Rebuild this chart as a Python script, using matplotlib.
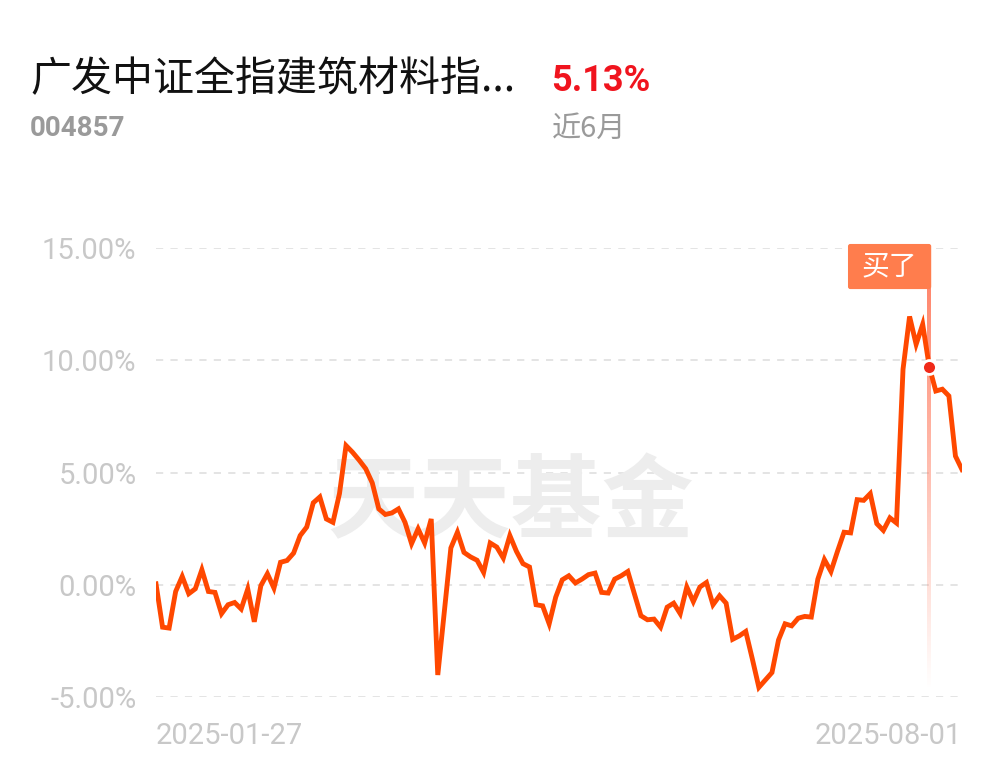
import numpy as np
import matplotlib.pyplot as plt
from matplotlib.patches import FancyBboxPatch

# 近6月 累计收益率 (%)，每个交易日一个点
returns = [0.04, -1.89, -1.93, -0.30, 0.37, -0.40, -0.18, 0.67, -0.30, -0.34,
           -1.29, -0.89, -0.79, -1.08, -0.19, -1.65, -0.04, 0.49, -0.15, 1.00,
           1.08, 1.41, 2.19, 2.57, 3.65, 3.91, 2.93, 2.78, 4.06, 6.20,
           5.90, 5.55, 5.17, 4.54, 3.38, 3.13, 3.20, 3.38, 2.78, 1.83,
           2.49, 1.86, 2.93, -4.02, -1.20, 1.64, 2.34, 1.44, 1.24, 1.09,
           0.55, 1.86, 1.68, 1.19, 2.19, 1.49, 0.94, 0.79, -0.89, -0.94,
           -1.74, -0.55, 0.22, 0.40, 0.08, 0.25, 0.45, 0.52, -0.34, -0.37,
           0.25, 0.40, 0.59, -0.40, -1.38, -1.56, -1.53, -1.89, -1.00, -0.82,
           -1.29, -0.10, -0.75, -0.10, 0.10, -0.89, -0.49, -0.82, -2.43, -2.28,
           -2.08, -3.30, -4.57, -4.24, -3.91, -2.46, -1.74, -1.83, -1.49, -1.41,
           -1.44, 0.25, 1.12, 0.59, 1.49, 2.34, 2.31, 3.79, 3.76, 4.06,
           2.72, 2.42, 2.98, 2.75, 9.60, 11.95, 10.71, 11.60, 9.72, 8.63,
           8.71, 8.41, 5.73, 5.13]
date_labels = ['2025-01-27', '2025-08-01']
y_ticks = [-5, 0, 5, 10, 15]
buy_idx = 118

fund_name = '广发中证全指建筑材料指...'
fund_code = '004857'
period_return = '5.13%'
period_name = '近6月'

W, H = 1001, 766
fig = plt.figure(figsize=(W / 100, H / 100), dpi=100)
fig.patch.set_facecolor('white')

cjk = ['Noto Sans CJK SC', 'DejaVu Sans']
num = ['Roboto', 'DejaVu Sans']

# 标题区
fig.text(30 / W, 1 - 91 / H, fund_name, fontsize=29.5, family=cjk, color='#111111', va='baseline')
fig.text(551 / W, 1 - 91 / H, period_return, fontsize=26, family=num,
         fontweight='bold', color='#f0141e', va='baseline')
fig.text(30 / W, 1 - 136 / H, fund_code, fontsize=20, family=num,
         fontweight='bold', color='#9a9a9a', va='baseline')
fig.text(552 / W, 1 - 137 / H, period_name, fontsize=21, family=cjk, color='#9a9a9a', va='baseline')

# 绘图区
x = np.arange(len(returns))
ax = fig.add_axes([156 / W, (H - 697) / H, (962 - 156) / W, (697 - 248) / H])
ax.set_facecolor('none')
for s in ax.spines.values():
    s.set_visible(False)

for yv in y_ticks:
    ax.axhline(yv, color='#e2e2e2', lw=1.3, ls=(0, (4, 4)), zorder=0)

# 水印
ax.text(0.44, 0.43, '天天基金', transform=ax.transAxes, fontsize=66, family=cjk,
        fontweight='bold', color='#ededed', ha='center', va='center', zorder=0)

ax.plot(x, returns, color='#ff4800', lw=3.5, solid_joinstyle='miter', zorder=3)

# 买入标记：渐变竖线 + 标签
top_y, bot_y = 13.17, -4.7
grad = np.zeros((200, 1, 4))
grad[:, 0, 0] = 1.0
grad[:, 0, 1] = 0.45
grad[:, 0, 2] = 0.33
grad[:, 0, 3] = np.linspace(0.85, 0.0, 200)
ax.imshow(grad, extent=[buy_idx - 0.3, buy_idx + 0.3, bot_y, top_y], aspect='auto',
          origin='upper', zorder=2)

box_w = 12.7
box = FancyBboxPatch((buy_idx + 0.3 - box_w, top_y), box_w, 15.18 - top_y,
                     boxstyle='round,pad=0,rounding_size=0.35', fc='#ff7d4d', ec='none',
                     clip_on=False, zorder=4, mutation_aspect=0.3)
ax.add_patch(box)
ax.text(buy_idx + 0.3 - box_w / 2, (top_y + 15.18) / 2, '买了', family=cjk, fontsize=20,
        color='white', ha='center', va='center', zorder=5)

ax.plot([buy_idx], [returns[buy_idx]], 'o', ms=10, mfc='#f02a1a', mec='white', mew=2, zorder=5)

ax.set_xlim(0, len(returns) - 1)
ax.set_ylim(-5, 15)

ax.set_yticks(y_ticks)
ax.set_yticklabels(['%.2f%%' % v for v in y_ticks], family=num, fontsize=21, color='#c8c8c8')
ax.tick_params(axis='y', length=0, pad=14)

ax.set_xticks([0, len(returns) - 1])
ax.set_xticklabels(date_labels, family=num, fontsize=21, color='#c8c8c8')
ax.tick_params(axis='x', length=0, pad=18)
lbls = ax.get_xticklabels()
lbls[0].set_ha('left')
lbls[1].set_ha('right')

fig.savefig('out.png', dpi=100, facecolor='white')
